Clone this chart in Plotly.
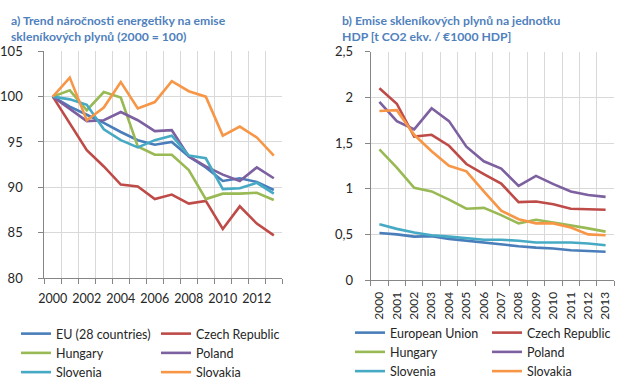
import plotly.graph_objects as go

years = list(range(2000, 2014))
series_names_a = ["EU (28 countries)", "Czech Republic", "Hungary", "Poland", "Slovenia", "Slovakia"]
series_names_b = ["European Union", "Czech Republic", "Hungary", "Poland", "Slovenia", "Slovakia"]
colors = ["#4A7EBB", "#BE4B48", "#98B954", "#7D60A0", "#46AAC5", "#F79646"]

# a) energy intensity trend (2000 = 100)
eu_a = [100, 98.9, 98.0, 97.1, 96.1, 95.2, 94.7, 95.0, 93.4, 92.2, 90.7, 91.0, 90.6, 89.7]
cz_a = [100, 97.1, 94.1, 92.3, 90.3, 90.1, 88.7, 89.2, 88.2, 88.5, 85.4, 87.9, 86.0, 84.7]
hu_a = [100, 100.7, 98.5, 100.5, 99.9, 94.5, 93.6, 93.6, 91.9, 88.7, 89.3, 89.3, 89.4, 88.6]
pl_a = [100, 98.7, 97.3, 97.4, 98.3, 97.4, 96.2, 96.3, 93.4, 92.3, 91.4, 90.7, 92.2, 91.0]
si_a = [100, 99.7, 99.1, 96.4, 95.2, 94.4, 95.2, 95.7, 93.5, 93.2, 89.8, 89.9, 90.5, 89.3]
sk_a = [100, 102.1, 97.4, 98.8, 101.6, 98.7, 99.4, 101.7, 100.6, 100.0, 95.7, 96.7, 95.5, 93.5]

# b) GHG emissions per unit of GDP
eu_b = [0.515, 0.50, 0.475, 0.48, 0.45, 0.43, 0.41, 0.385, 0.37, 0.355, 0.345, 0.325, 0.315, 0.31]
cz_b = [2.10, 1.93, 1.57, 1.59, 1.47, 1.27, 1.16, 1.055, 0.853, 0.86, 0.83, 0.78, 0.775, 0.77]
hu_b = [1.43, 1.23, 1.01, 0.97, 0.88, 0.78, 0.79, 0.71, 0.62, 0.66, 0.63, 0.60, 0.565, 0.53]
pl_b = [1.95, 1.74, 1.65, 1.88, 1.74, 1.46, 1.30, 1.22, 1.03, 1.14, 1.05, 0.97, 0.93, 0.91]
si_b = [0.61, 0.56, 0.52, 0.49, 0.475, 0.46, 0.44, 0.44, 0.43, 0.41, 0.41, 0.41, 0.40, 0.38]
sk_b = [1.85, 1.86, 1.59, 1.41, 1.25, 1.19, 0.97, 0.76, 0.665, 0.62, 0.62, 0.575, 0.50, 0.49]

a_ticks = [80, 85, 90, 95, 100, 105]
b_ticks = [0, 0.5, 1, 1.5, 2, 2.5]
b_ticktext = ["0", "0,5", "1", "1,5", "2", "2,5"]
a_xticks = [2000, 2002, 2004, 2006, 2008, 2010, 2012]

title_a = ["a) Trend náročnosti energetiky na emise", "skleníkových plynů (2000 = 100)"]
title_b = ["b) Emise skleníkových plynů na jednotku", "HDP [t CO2 ekv. / €1000 HDP]"]

W, H = 631, 385
FONT = "Lato"
TXT = "#262626"
GRID = "#D9D9D9"
AXL = "#868686"
TITLE_C = "#4F81BD"

data_a = [eu_a, cz_a, hu_a, pl_a, si_a, sk_a]
data_b = [eu_b, cz_b, hu_b, pl_b, si_b, sk_b]
leg_a = ["legend", "legend2", "legend", "legend2", "legend", "legend2"]
leg_b = ["legend3", "legend4", "legend3", "legend4", "legend3", "legend4"]

fig = go.Figure()
for i in range(6):
    fig.add_trace(go.Scatter(x=years, y=data_a[i], name=series_names_a[i], mode="lines",
                             line=dict(color=colors[i], width=2.6), xaxis="x", yaxis="y",
                             legend=leg_a[i]))
for i in range(6):
    fig.add_trace(go.Scatter(x=years, y=data_b[i], name=series_names_b[i], mode="lines",
                             line=dict(color=colors[i], width=2.6), xaxis="x2", yaxis="y2",
                             legend=leg_b[i]))

def px(v):
    return v / W

def py(v):
    return 1 - v / H

minor = dict(tick0=1999.5, dtick=1, showgrid=True, gridcolor=GRID, gridwidth=1,
             ticks="outside", ticklen=5, tickcolor=AXL)

annots = []
for lines, x0 in ((title_a, 9), (title_b, 340)):
    for j, (t, yc) in enumerate(zip(lines, (20, 36))):
        annots.append(dict(text="<b>" + t + "</b>", xref="paper", yref="paper", x=px(x0), y=py(yc),
                           xanchor="left", yanchor="middle", align="left", showarrow=False,
                           font=dict(family=FONT, size=12.2, color=TITLE_C)))

fig.update_layout(
    width=W, height=H,
    margin=dict(l=0, r=0, t=0, b=0, pad=0, autoexpand=False),
    paper_bgcolor="white", plot_bgcolor="white",
    font=dict(family=FONT, size=13, color=TXT),
    xaxis=dict(domain=[px(44.3), px(282.3)], range=[1999.5, 2013.5], tickmode="array",
               tickvals=a_xticks, ticks="", showgrid=False, showline=True, linecolor=AXL,
               minor=minor, ticklabelstandoff=9, tickfont=dict(size=12.5), anchor="y",
               zeroline=False, automargin=False),
    yaxis=dict(domain=[py(278), py(51.3)], range=[80, 105], tickmode="array", tickvals=a_ticks,
               showgrid=True, gridcolor=GRID, showline=True, linecolor=AXL, ticks="outside",
               ticklen=5, tickcolor=AXL, ticklabelstandoff=13, tickfont=dict(size=13),
               anchor="x", zeroline=False, automargin=False),
    xaxis2=dict(domain=[px(370.7), px(614.3)], range=[1999.5, 2013.5], tickmode="array",
                tickvals=years, ticks="", showgrid=False, showline=True, linecolor=AXL,
                minor=minor, tickangle=-90, ticklabelstandoff=6, tickfont=dict(size=12),
                anchor="y2", zeroline=False, automargin=False),
    yaxis2=dict(domain=[py(280), py(51.7)], range=[0, 2.5], tickmode="array", tickvals=b_ticks,
                ticktext=b_ticktext, showgrid=True, gridcolor=GRID, showline=True, linecolor=AXL,
                ticks="outside", ticklen=5, tickcolor=AXL, ticklabelstandoff=9,
                tickfont=dict(size=13), anchor="x2", zeroline=False, automargin=False),
    annotations=annots,
)

leg_common = dict(orientation="v", yanchor="middle", xanchor="left", bgcolor="rgba(0,0,0,0)",
                  font=dict(family=FONT, size=12.5, color=TXT), borderwidth=0)
fig.update_layout(
    legend=dict(x=px(16), y=py(353), **leg_common),
    legend2=dict(x=px(156), y=py(353), **leg_common),
    legend3=dict(x=px(350), y=py(352), **leg_common),
    legend4=dict(x=px(487), y=py(352), **leg_common),
)

fig.write_html("out.html", config={"displayModeBar": False},
               post_script="document.body.style.margin='0px';")
